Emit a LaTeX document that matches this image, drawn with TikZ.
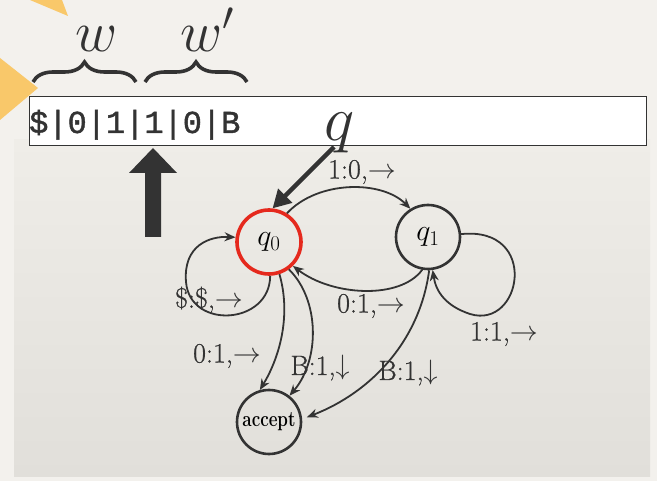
\RequirePackage{fix-cm}
\documentclass[tikz,border=0pt]{standalone}
\usepackage{fontspec}
\newfontfamily\tapefont[FakeBold=1.3]{Liberation Mono}
\newfontfamily\lblfont[FakeBold=0.7]{Latin Modern Roman}
\usetikzlibrary{arrows.meta,decorations.pathreplacing,shapes.geometric}
\definecolor{ink}{HTML}{333333}
\definecolor{paper}{HTML}{F3F1ED}
\definecolor{paneltop}{HTML}{EFEDE8}
\definecolor{panelbot}{HTML}{E1DFDA}
\definecolor{hl}{HTML}{F9C86A}
\definecolor{qred}{HTML}{E5291D}
\tikzset{
  state/.style={circle, draw=ink, line width=2.6pt, minimum size=64pt, inner sep=0pt},
  edge/.style={draw=ink, line width=1.8pt, -{Stealth[length=11pt,width=9pt]}},
  lbl/.style={text=ink, font=\lblfont\fontsize{28}{28}\selectfont, inner sep=0pt},
  bigmath/.style={text=ink, font=\fontsize{58}{58}\selectfont, inner sep=0pt},
  bracestyle/.style={draw=ink, line width=3.6pt, decorate, decoration={brace, amplitude=20pt, aspect=0.5}}
}
\begin{document}
\begin{tikzpicture}[x=1pt,y=-1pt]
\useasboundingbox (0,0) rectangle (657,481);
\fill[paper] (0,0) rectangle (657,481);
\shade[top color=paneltop, bottom color=panelbot] (14,140) rectangle (650,477);
% highlight triangles
\fill[hl] (30,0) -- (62,0) -- (68,16) -- cycle;
\fill[hl] (0,58) -- (38,88) -- (0,120) -- cycle;
% tape
\node[draw=ink, fill=white, line width=1.4pt, minimum width=617pt, minimum height=49pt, inner sep=0pt, anchor=north west] (tape) at (29,96) {};
\node[anchor=base west, inner sep=0pt, text=ink, font=\tapefont\fontsize{32}{32}\selectfont] (tapetext) at (29,133) {\$|0|1|1|0|B};
% braces and labels
\coordinate (b1a) at (33,82);
\coordinate (b1b) at (136,82);
\coordinate (b2a) at (145,82);
\coordinate (b2b) at (247,82);
\draw[bracestyle] (b1a) -- (b1b);
\draw[bracestyle] (b2a) -- (b2b);
\node[bigmath, anchor=base] (w) at (97,52) {$w$};
\node[bigmath, anchor=base] (wp) at (207,52) {$w'$};
\node[bigmath, anchor=base, font=\fontsize{64}{64}\selectfont] (qlbl) at (340,141) {$q$};
% big up arrow (head position)
\fill[ink] (153,148) -- (177,173) -- (161,173) -- (161,237) -- (145,237) -- (145,173) -- (129,173) -- cycle;
% states
\node[state, draw=qred, line width=3.6pt, font=\fontsize{30}{30}\selectfont] (q0) at (269,242) {$q_0$};
\node[state, font=\fontsize{30}{30}\selectfont] (q1) at (428,237) {$q_1$};
\node[state, minimum size=64pt, font=\bfseries\fontsize{20}{20}\selectfont] (acc) at (269,422) {\scalebox{0.85}[1.1]{accept}};
% pointer from q
\coordinate (qstart) at (334,147);
\draw[ink, line width=4.5pt, -{Triangle[length=18pt,width=19pt]}] (qstart) -- (q0.84);
% edges
\draw[edge] (q0.58) .. controls (318,180) and (382,180) .. (q1.122);
\draw[edge] (q1.-100) .. controls (400,300) and (332,296) .. (q0.-45);
\draw[edge] (q0.-88) .. controls (270,325) and (190,330) .. (186,282) .. controls (183,245) and (210,236) .. (q0.172);
\draw[edge] (q1.5) .. controls (540,226) and (522,330) .. (470,314) .. controls (446,306) and (436,292) .. (q1.-82);
\draw[edge] (q0.-72) .. controls (292,318) and (278,360) .. (acc.106);
\draw[edge] (q0.-54) .. controls (320,300) and (320,360) .. (acc.52);
\draw[edge, shorten >=5pt] (q1.-88) .. controls (420,340) and (372,392) .. (acc.5);
% labels
\node[lbl] (l1) at (362,172) {1:0,$\rightarrow$};
\node[lbl] (l2) at (371,306) {0:1,$\rightarrow$};
\node[lbl] (l3) at (209,300) {\$:\$,$\rightarrow$};
\node[lbl] (l4) at (504,334) {1:1,$\rightarrow$};
\node[lbl] (l5) at (227,356) {0:1,$\rightarrow$};
\node[lbl] (l6) at (320,368) {B:1,$\downarrow$};
\node[lbl] (l7) at (408,373) {B:1,$\downarrow$};
\end{tikzpicture}
\end{document}
